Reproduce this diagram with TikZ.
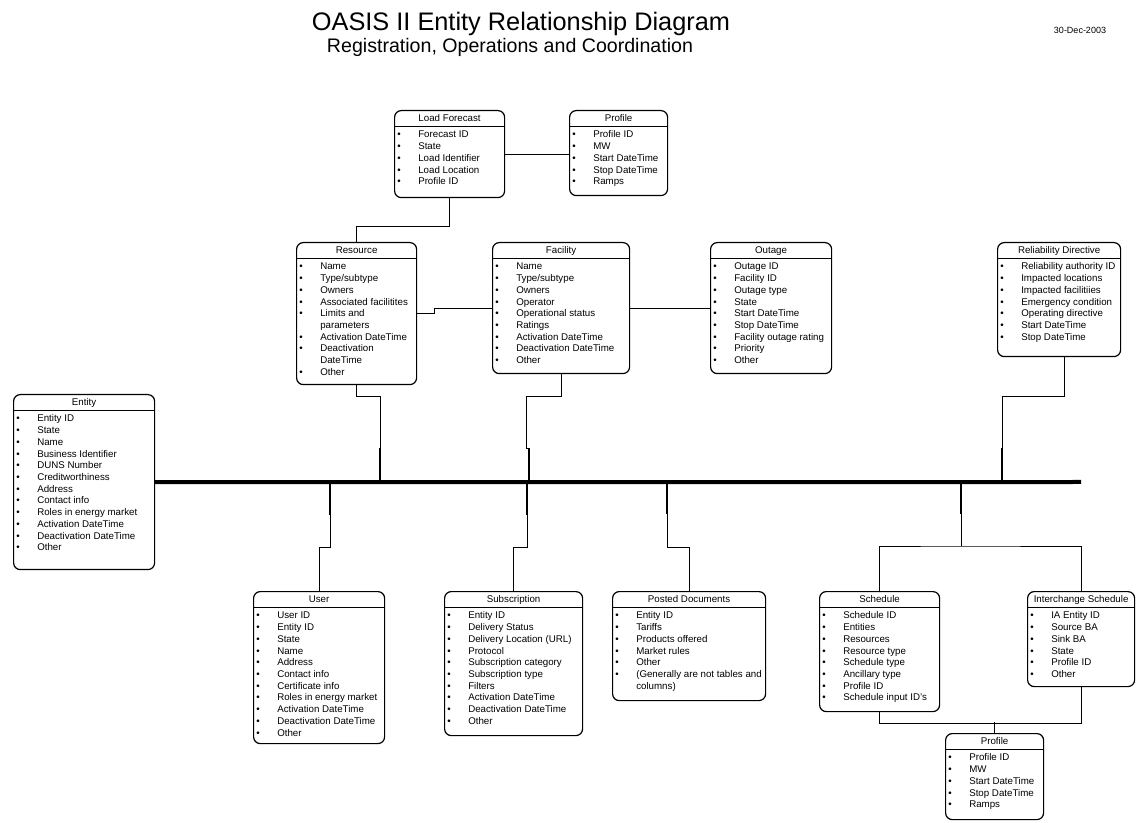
\documentclass[tikz,border=0pt]{standalone}
\usepackage{fontspec}
\setmainfont{Liberation Sans}
\usetikzlibrary{calc}

% one table of the diagram: name, left, top, width, height, title, rows
\newcommand{\erbox}[7]{%
  \node [erframe, minimum width=#4*0.75pt, minimum height=#5*0.75pt] (#1) at (#2,#3) {} ;
  \draw [link] ([yshift=-12pt]#1.north west) -- ([yshift=-12pt]#1.north east) ;
  \node [ertitle] (#1-t) at ([yshift=-8.6pt]#1.north) {#6} ;
  \node [eritems] (#1-l) at ([xshift=2.25pt,yshift=-14.5pt]#1.north west)
    {\begin{tabular}{@{}p{15.75pt}@{}l@{}}#7\end{tabular}} ;
}
\newcommand{\bul}{\textbullet}

\begin{document}
\begin{tikzpicture}[x=0.75pt,y=-0.75pt,
    erframe/.style={draw, line width=0.9pt, rounded corners=5pt, anchor=north west, inner sep=0pt},
    ertitle/.style={anchor=base, inner sep=0pt, font=\fontsize{7.3pt}{8.8pt}\selectfont},
    eritems/.style={anchor=north west, inner sep=0pt, font=\fontsize{7.3pt}{8.8pt}\selectfont},
    link/.style={line width=0.7pt},
    tap/.style={line width=2.2pt},
    bus/.style={line width=3pt}]
  \fill [white] (0,0) rectangle (1136,823) ;

  % heading
  \node [anchor=base, font=\fontsize{19pt}{23pt}\selectfont] (title) at (521,31) {OASIS II Entity Relationship Diagram} ;
  \node [anchor=base, font=\fontsize{14.7pt}{17pt}\selectfont] (subtitle) at (510,53) {Registration, Operations and Coordination} ;
  \node [anchor=base, font=\fontsize{6.75pt}{8pt}\selectfont] (date) at (1080,34) {30-Dec-2003} ;

  % tables above the bus
  \erbox{lf}{394}{110}{110}{87}{Load Forecast}{%
    \bul & Forecast ID\\ \bul & State\\ \bul & Load Identifier\\ \bul & Load Location\\ \bul & Profile ID}
  \erbox{pfa}{569}{110}{98}{85}{Profile}{%
    \bul & Profile ID\\ \bul & MW\\ \bul & Start DateTime\\ \bul & Stop DateTime\\ \bul & Ramps}
  \erbox{res}{296}{242}{120}{142}{Resource}{%
    \bul & Name\\ \bul & Type/subtype\\ \bul & Owners\\ \bul & Associated facilitites\\
    \bul & Limits and\\ & parameters\\ \bul & Activation DateTime\\ \bul & Deactivation\\ & DateTime\\ \bul & Other}
  \erbox{fac}{492}{242}{137}{131}{Facility}{%
    \bul & Name\\ \bul & Type/subtype\\ \bul & Owners\\ \bul & Operator\\ \bul & Operational status\\
    \bul & Ratings\\ \bul & Activation DateTime\\ \bul & Deactivation DateTime\\ \bul & Other}
  \erbox{out}{710}{242}{121}{131}{Outage}{%
    \bul & Outage ID\\ \bul & Facility ID\\ \bul & Outage type\\ \bul & State\\ \bul & Start DateTime\\
    \bul & Stop DateTime\\ \bul & Facility outage rating\\ \bul & Priority\\ \bul & Other}
  \erbox{rd}{997}{242}{123}{114}{Reliability Directive}{%
    \bul & Reliability authority ID\\ \bul & Impacted locations\\ \bul & Impacted facilitiies\\
    \bul & Emergency condition\\ \bul & Operating directive\\ \bul & Start DateTime\\ \bul & Stop DateTime}

  % entity at the head of the bus
  \erbox{ent}{13}{394}{141}{175}{Entity}{%
    \bul & Entity ID\\ \bul & State\\ \bul & Name\\ \bul & Business Identifier\\ \bul & DUNS Number\\
    \bul & Creditworthiness\\ \bul & Address\\ \bul & Contact info\\ \bul & Roles in energy market\\
    \bul & Activation DateTime\\ \bul & Deactivation DateTime\\ \bul & Other}

  % tables below the bus
  \erbox{usr}{253}{591}{131}{152}{User}{%
    \bul & User ID\\ \bul & Entity ID\\ \bul & State\\ \bul & Name\\ \bul & Address\\ \bul & Contact info\\
    \bul & Certificate info\\ \bul & Roles in energy market\\ \bul & Activation DateTime\\
    \bul & Deactivation DateTime\\ \bul & Other}
  \erbox{sub}{444}{591}{138}{144}{Subscription}{%
    \bul & Entity ID\\ \bul & Delivery Status\\ \bul & Delivery Location (URL)\\ \bul & Protocol\\
    \bul & Subscription category\\ \bul & Subscription type\\ \bul & Filters\\ \bul & Activation DateTime\\
    \bul & Deactivation DateTime\\ \bul & Other}
  \erbox{pd}{612}{591}{153}{109}{Posted Documents}{%
    \bul & Entity ID\\ \bul & Tariffs\\ \bul & Products offered\\ \bul & Market rules\\ \bul & Other\\
    \bul & (Generally are not tables and\\ & columns)}
  \erbox{sch}{819}{591}{120}{120}{Schedule}{%
    \bul & Schedule ID\\ \bul & Entities\\ \bul & Resources\\ \bul & Resource type\\ \bul & Schedule type\\
    \bul & Ancillary type\\ \bul & Profile ID\\ \bul & Schedule input ID's}
  \erbox{isch}{1027}{591}{107}{95}{Interchange Schedule}{%
    \bul & IA Entity ID\\ \bul & Source BA\\ \bul & Sink BA\\ \bul & State\\ \bul & Profile ID\\ \bul & Other}
  \erbox{pfb}{945}{733}{98}{86}{Profile}{%
    \bul & Profile ID\\ \bul & MW\\ \bul & Start DateTime\\ \bul & Stop DateTime\\ \bul & Ramps}

  % the bus and its taps
  \coordinate (busend) at (1081,482) ;
  \draw [bus] (ent.east) -- (busend) ;
  \coordinate (tres) at (380,482) ;
  \coordinate (tfac) at (529,482) ;
  \coordinate (trd) at (1002,482) ;
  \coordinate (tusr) at (330,482) ;
  \coordinate (tsub) at (527,482) ;
  \coordinate (tpd) at (667,482) ;
  \coordinate (tsch) at (961,482) ;

  % links above
  \draw [link] (lf.east) -- (lf.east -| pfa.west) ;
  \draw [link] (lf.south) -- ++(0,28) -| (res.north) ;
  \draw [link] (res.east) -- ++(17,0) |- (fac.west) ;
  \draw [link] (fac.east) -- (out.west) ;
  \draw [link] (res.south) -- ++(0,11) -| ([yshift=25.5pt]tres) ;
  \draw [tap] ([yshift=25.5pt]tres) -- (tres) ;
  \draw [link] (fac.south) -- ++(0,22) -| ([xshift=-2.25pt,yshift=25.5pt]tfac) -- ([yshift=25.5pt]tfac) ;
  \draw [tap] ([yshift=25.5pt]tfac) -- (tfac) ;
  \draw [link] ([xshift=3.75pt]rd.south) -- ++(0,39) -| ([yshift=25.5pt]trd) ;
  \draw [tap] ([yshift=25.5pt]trd) -- (trd) ;

  % links below
  \draw [tap] (tusr) -- ([yshift=-24.75pt]tusr) ;
  \draw [link] ([yshift=-24.75pt]tusr) -- ([yshift=-48.75pt]tusr) -| (usr.north) ;
  \draw [tap] (tsub) -- ([yshift=-24.75pt]tsub) ;
  \draw [link] ([yshift=-24.75pt]tsub) -- ([yshift=-48.75pt]tsub) -| (sub.north) ;
  \draw [tap] (tpd) -- ([yshift=-24pt]tpd) ;
  \draw [link] ([yshift=-24pt]tpd) -- ([yshift=-48.75pt]tpd) -| (pd.north) ;
  \draw [tap] (tsch) -- ([yshift=-24pt]tsch) ;
  \draw [link] ([yshift=-24pt]tsch) -- ([yshift=-48pt]tsch) ;
  \draw [link] (sch.north) |- ([yshift=-48pt]tsch) -| (isch.north) ;
  \draw [link] (sch.south) -- ++(0,11) -| (isch.south) ;
  \draw [link] (pfb.north) -- ++(0,-11) ;
\end{tikzpicture}
\end{document}
